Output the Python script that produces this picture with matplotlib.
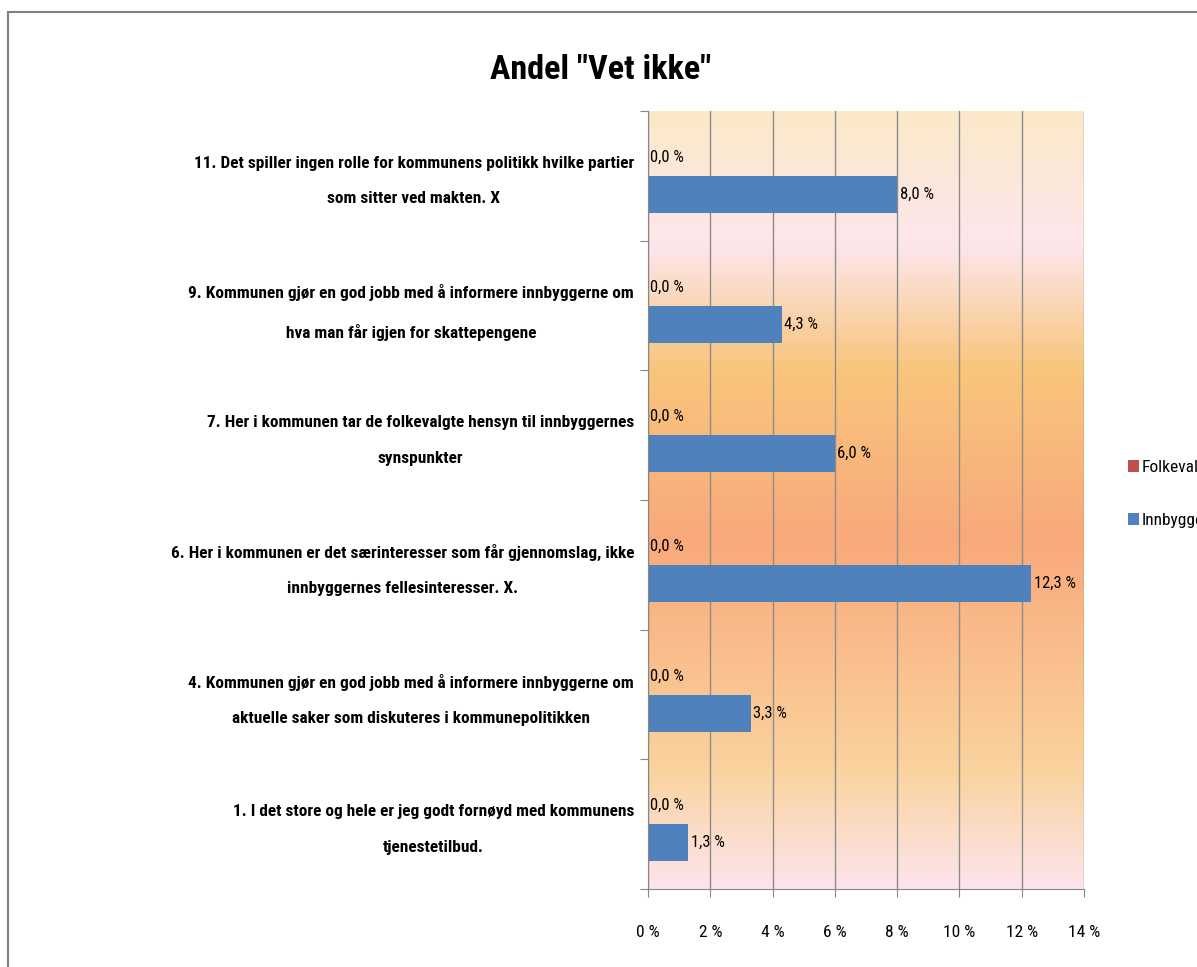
import numpy as np
import matplotlib
matplotlib.use("Agg")
import matplotlib.pyplot as plt
from matplotlib.colors import LinearSegmentedColormap
from matplotlib.patches import Rectangle

sporsmal = [
    "1. I det store og hele er jeg godt fornøyd med kommunens\ntjenestetilbud.",
    "4. Kommunen gjør en god jobb med å informere innbyggerne om\naktuelle saker som diskuteres i kommunepolitikken",
    "6. Her i kommunen er det særinteresser som får gjennomslag, ikke\ninnbyggernes fellesinteresser. X.",
    "7. Her i kommunen tar de folkevalgte hensyn til innbyggernes\nsynspunkter",
    "9. Kommunen gjør en god jobb med å informere innbyggerne om\nhva man får igjen for skattepengene",
    "11. Det spiller ingen rolle for kommunens politikk hvilke partier\nsom sitter ved makten. X",
]
folkevalgte = [0.0, 0.0, 0.0, 0.0, 0.0, 0.0]
innbyggere = [1.3, 3.3, 12.3, 6.0, 4.3, 8.0]
x_ticks = [0, 2, 4, 6, 8, 10, 12, 14]

FONT = ['Roboto Condensed', 'Liberation Sans Narrow', 'DejaVu Sans Condensed', 'Roboto', 'DejaVu Sans']
plt.rcParams['font.family'] = FONT
plt.rcParams['font.stretch'] = 'condensed'

# bakgrunnsgradient (topp -> bunn)
grad = LinearSegmentedColormap.from_list("bg", [
    (0.0, "#fbe9c9"), (0.17, "#fde6ec"), (0.33, "#f8c57b"),
    (0.55, "#f9a97b"), (0.85, "#f9d39e"), (1.0, "#fde4ec")])

fig = plt.figure(figsize=(11.97, 9.67), dpi=100)
fig.patches.append(Rectangle((8/1197, -0.1), 1.2, 1.1 - 12/967, transform=fig.transFigure,
                             fill=False, edgecolor="#808080", lw=1.5))
ax = fig.add_axes([648/1197, 1 - 889/967, 436/1197, 778/967])

ax.imshow(np.linspace(0, 1, 256).reshape(-1, 1), cmap=grad, aspect='auto',
          extent=[0, 14, -0.5, 5.5], zorder=0, interpolation='bilinear')

y = np.arange(len(sporsmal))
h = 1/3.5
ax.barh(y + h/2, folkevalgte, height=h, color="#c0504d", label="Folkevalgte", zorder=2)
ax.barh(y - h/2, innbyggere, height=h, color="#4f81bd", label="Innbyggere", zorder=2)

verdi_txt = []
for i in range(len(y)):
    verdi_txt.append(ax.text(folkevalgte[i] + 0.08, y[i] + h/2, ("%.1f %%" % folkevalgte[i]).replace(".", ","),
                             va='center', ha='left', fontsize=12))
    verdi_txt.append(ax.text(innbyggere[i] + 0.08, y[i] - h/2, ("%.1f %%" % innbyggere[i]).replace(".", ","),
                             va='center', ha='left', fontsize=12))

ax.set_xlim(0, 14)
ax.set_ylim(-0.5, 5.5)
ax.set_xticks(x_ticks)
ax.set_xticklabels(["%d %%" % t for t in x_ticks], fontsize=13)
ax.set_yticks(np.arange(-0.5, 6, 1))
ax.set_yticklabels([])
ax.set_yticks(y + 0.05, minor=True)  # litt opp, som i originalen
ax.set_yticklabels(sporsmal, minor=True, fontsize=14, fontweight='bold',
                   multialignment='center', linespacing=2.7)
ax.tick_params(axis='y', which='minor', length=0, pad=10)
ax.tick_params(axis='y', which='major', length=6, color="#868686")
ax.tick_params(axis='x', length=6, color="#868686", pad=20)
ax.xaxis.grid(True, color="#8c8c8c", lw=1)
ax.set_axisbelow(True)
for s in ['top', 'right']:
    ax.spines[s].set_visible(False)
for s in ['left', 'bottom']:
    ax.spines[s].set_color("#868686")

tittel = fig.text(601/1197, 1 - 70/967, 'Andel "Vet ikke"', ha='center', va='center',
                  fontsize=27, fontweight='bold')

hd, lb = ax.get_legend_handles_labels()
leg = fig.legend(hd, lb, loc='upper left', bbox_to_anchor=(1112/1197, 1 - 444/967),
                 frameon=False, fontsize=13, handlelength=0.6, handleheight=0.6,
                 handletextpad=0.15, labelspacing=2.1)

# tilpass skriftstørrelser til bredden i originalen (smal skrift)
fig.canvas.draw()
r = fig.canvas.get_renderer()

def bredde(t):
    return t.get_window_extent(r).width

def tilpass(tekster, maal, tekst_ref, maks=None):
    f = maal / bredde(tekst_ref)
    for t in tekster:
        ny = t.get_fontsize() * f
        if maks:
            ny = min(ny, maks)
        t.set_fontsize(ny)

ylab = ax.get_yticklabels(minor=True)
# lengste linje ("11. Det spiller ...") er ca 441 px bred
probe = fig.text(0, 0, sporsmal[5].split("\n")[0], fontsize=14, fontweight='bold')
f_lab = 441 / bredde(probe) * 14
probe.remove()
for t in ylab:
    t.set_fontsize(min(f_lab, 16))
xlab = ax.get_xticklabels()
tilpass(xlab, 32, xlab[-1], maks=14)
tilpass(verdi_txt, 42, verdi_txt[5], maks=13)
tilpass([tittel], 177 * 1.25, tittel, maks=28)
for t in leg.get_texts():
    t.set_fontsize(xlab[0].get_fontsize())

fig.savefig("out.png", dpi=100)
